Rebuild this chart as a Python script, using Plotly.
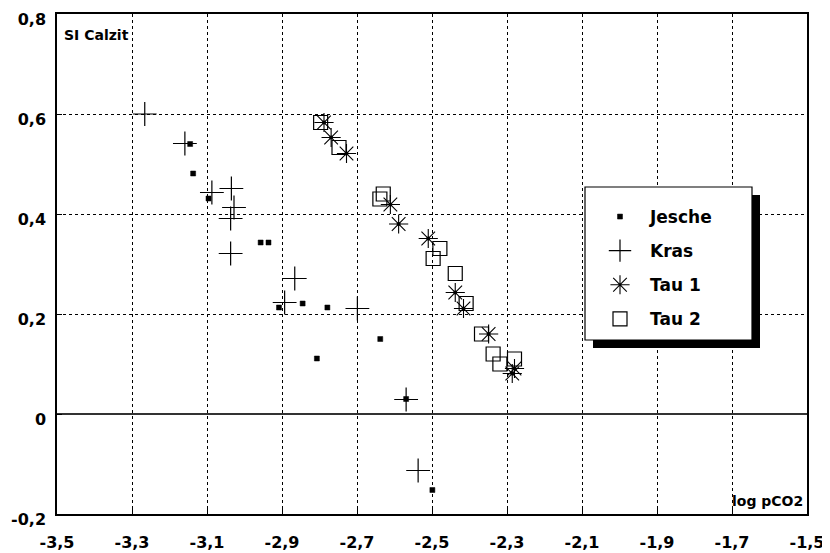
import plotly.graph_objects as go

# ---- data ----
jesche_x = [-3.145, -3.137, -3.096, -2.957, -2.936, -2.908, -2.845, -2.779, -2.807, -2.638, -2.569, -2.499]
jesche_y = [0.540, 0.481, 0.431, 0.343, 0.343, 0.213, 0.221, 0.213, 0.111, 0.150, 0.030, -0.152]

kras_x = [-3.266, -3.159, -3.087, -3.035, -3.028, -3.037, -3.037, -2.866, -2.893, -2.699, -2.569, -2.537]
kras_y = [0.600, 0.541, 0.443, 0.451, 0.413, 0.391, 0.321, 0.271, 0.223, 0.211, 0.029, -0.113]

tau1_x = [-2.788, -2.769, -2.728, -2.611, -2.589, -2.510, -2.438, -2.416, -2.349, -2.286, -2.280]
tau1_y = [0.583, 0.553, 0.521, 0.419, 0.380, 0.351, 0.243, 0.211, 0.160, 0.081, 0.091]

tau2_x = [-2.797, -2.748, -2.630, -2.639, -2.479, -2.497, -2.438, -2.409, -2.368, -2.337, -2.319, -2.280]
tau2_y = [0.583, 0.533, 0.440, 0.430, 0.331, 0.311, 0.281, 0.221, 0.160, 0.120, 0.100, 0.110]

x_ticks = [-3.5, -3.3, -3.1, -2.9, -2.7, -2.5, -2.3, -2.1, -1.9, -1.7, -1.5]
x_labels = ["-3,5", "-3,3", "-3,1", "-2,9", "-2,7", "-2,5", "-2,3", "-2,1", "-1,9", "-1,7", "-1,5"]
y_ticks = [0.8, 0.6, 0.4, 0.2, 0.0, -0.2]
y_labels = ["0,8", "0,6", "0,4", "0,2", "0", "-0,2"]

FONT = "DejaVu Sans"

fig = go.Figure()
fig.add_trace(go.Scatter(x=jesche_x, y=jesche_y, mode="markers", name="<b>Jesche</b>",
                         legendgroup="j",
                         marker=dict(symbol="square", size=5, color="black",
                                     line=dict(width=0.5, color="black"))))
fig.add_trace(go.Scatter(x=kras_x, y=kras_y, mode="markers", name="<b>Kras</b>",
                         legendgroup="k",
                         marker=dict(symbol="cross-thin", size=17, color="black",
                                     line=dict(width=1.2, color="black"))))
fig.add_trace(go.Scatter(x=tau1_x, y=tau1_y, mode="markers", name="<b>Tau 1</b>",
                         legendgroup="t1",
                         marker=dict(symbol="asterisk", size=16, color="black",
                                     line=dict(width=1.1, color="black"))))
fig.add_trace(go.Scatter(x=tau1_x, y=tau1_y, mode="markers", showlegend=False,
                         legendgroup="t1", hoverinfo="skip",
                         marker=dict(symbol="circle", size=4, color="black")))
fig.add_trace(go.Scatter(x=tau2_x, y=tau2_y, mode="markers", name="<b>Tau 2</b>",
                         legendgroup="t2",
                         marker=dict(symbol="square-open", size=14, color="black",
                                     line=dict(width=1.2, color="black"))))

# page body has an 8px margin: size the figure so that it fits the 830x553 window
OFF = 8
W, H = 830 - OFF, 553 - OFF
L, R, T, B = 57 - OFF, 23, 14 - OFF, 39
pw, ph = W - L - R, H - T - B


def px2paper(sx, sy):
    fx, fy = sx - OFF, sy - OFF
    return (fx - L) / pw, (H - B - fy) / ph


# legend box + shadow (screen pixel positions from the reference)
sx0, sy1 = px2paper(593, 195)
sx1, sy0 = px2paper(760, 348)
bx0, by1 = px2paper(585, 187)
bx1, by0 = px2paper(752, 340)
shapes = [
    dict(type="rect", xref="paper", yref="paper", x0=sx0, x1=sx1, y0=sy0, y1=sy1,
         fillcolor="black", line=dict(width=0), layer="above"),
    dict(type="rect", xref="paper", yref="paper", x0=bx0, x1=bx1, y0=by0, y1=by1,
         fillcolor="white", line=dict(width=1.2, color="black"), layer="above"),
]

lx, ly = px2paper(590, 199)
ax, ay = px2paper(62, 25)
bx, byy = px2paper(805, 511)

fig.update_layout(
    width=W, height=H,
    margin=dict(l=L, r=R, t=T, b=B, autoexpand=False),
    paper_bgcolor="white", plot_bgcolor="white",
    font=dict(family=FONT, color="black"),
    shapes=shapes,
    showlegend=True,
    legend=dict(x=lx, y=ly, xanchor="left", yanchor="top",
                bgcolor="rgba(0,0,0,0)", borderwidth=0,
                font=dict(family=FONT, size=17, color="black"),
                traceorder="grouped", tracegroupgap=9, itemwidth=50),
    xaxis=dict(range=[-3.5, -1.5], tickvals=x_ticks, ticktext=x_labels,
               showgrid=True, gridcolor="black", griddash="dot", gridwidth=1,
               showline=True, linecolor="black", linewidth=1.5, mirror=True,
               ticks="inside", ticklen=5, tickcolor="black",
               tickfont=dict(family=FONT, size=16, color="black", weight="bold"),
               ticklabelstandoff=13, ticklabeloverflow="allow",
               zeroline=False, fixedrange=True),
    yaxis=dict(range=[-0.2, 0.8], tickvals=y_ticks, ticktext=y_labels,
               showgrid=True, gridcolor="black", griddash="dot", gridwidth=1,
               showline=True, linecolor="black", linewidth=1.5, mirror=True,
               ticks="inside", ticklen=5, tickcolor="black",
               tickfont=dict(family=FONT, size=16, color="black", weight="bold"),
               ticklabelstandoff=6, ticklabelshift=5, ticklabeloverflow="allow",
               zeroline=True, zerolinecolor="#333333", zerolinewidth=1.8, fixedrange=True),
    annotations=[
        dict(text="<b>SI Calzit</b>", xref="paper", yref="paper", x=ax, y=ay,
             xanchor="left", yanchor="top", showarrow=False,
             font=dict(family=FONT, size=14, color="black")),
        dict(text="<b>log pCO2</b>", xref="paper", yref="paper", x=bx, y=byy,
             xanchor="right", yanchor="bottom", showarrow=False,
             font=dict(family=FONT, size=14, color="black")),
    ],
)

fig.write_html("out.html")
